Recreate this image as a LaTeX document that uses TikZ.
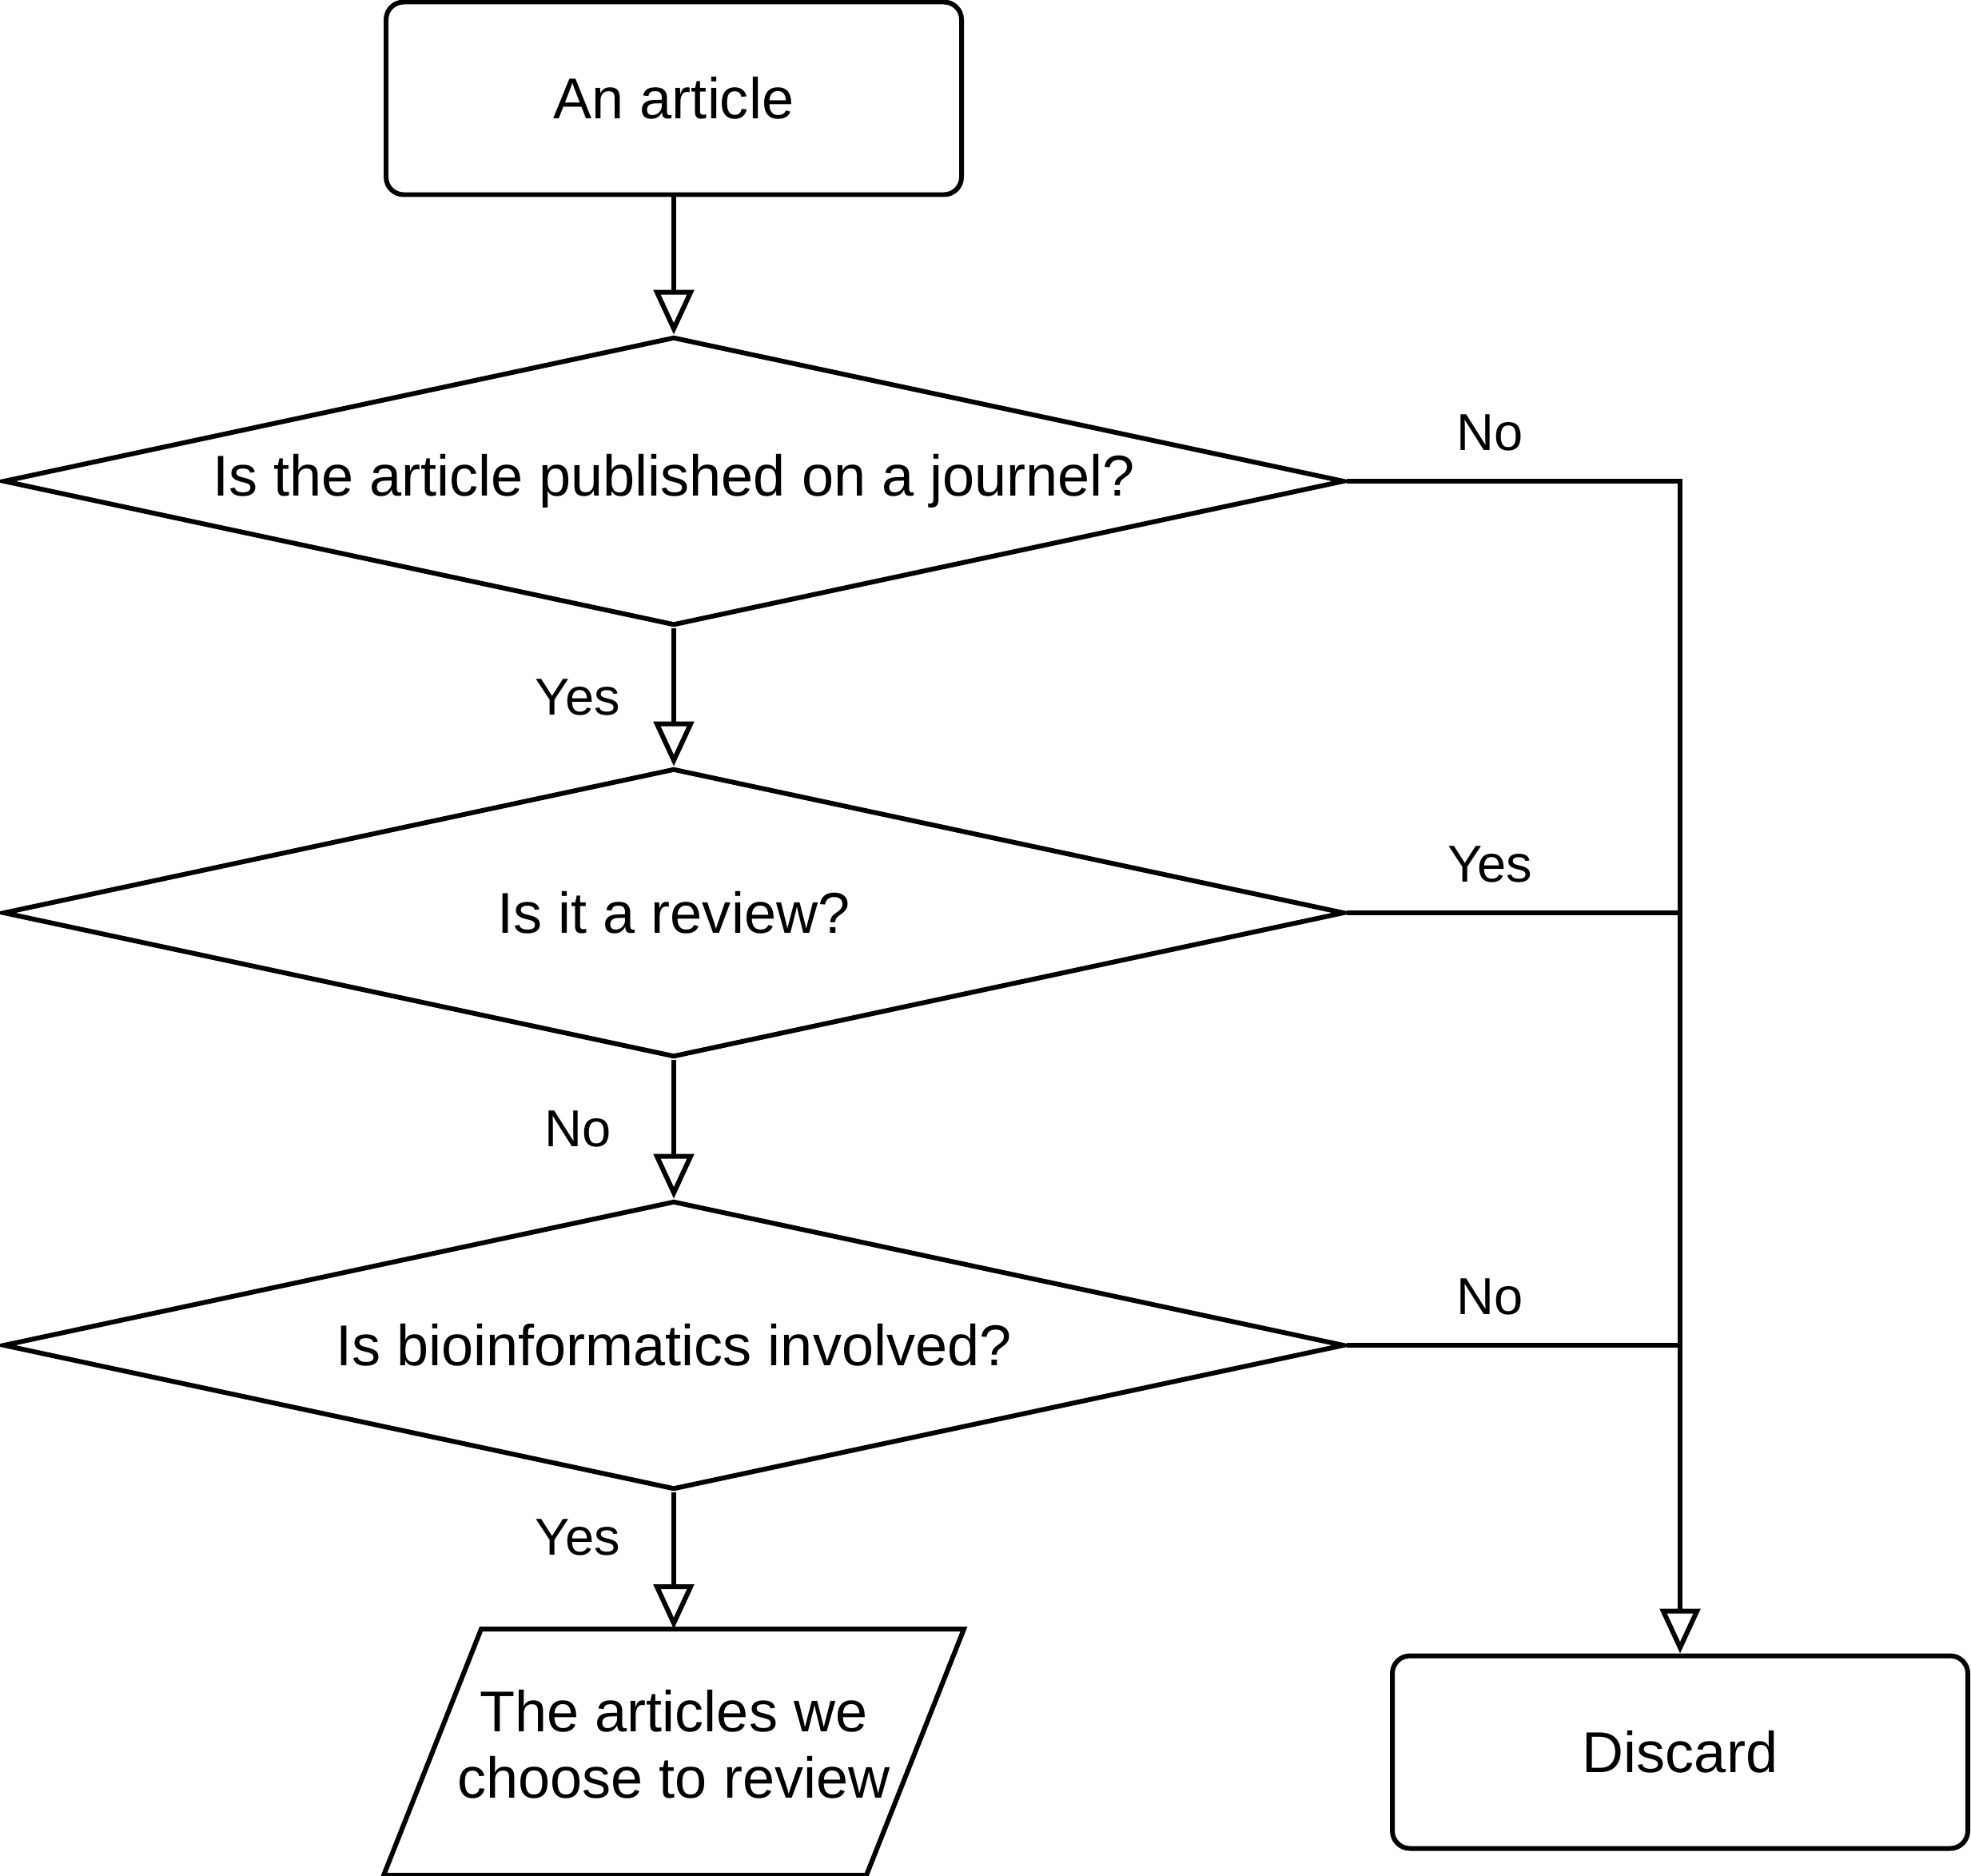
\documentclass[tikz,border=0pt]{standalone}
\usepackage{fontspec}
\setmainfont{Liberation Sans}
\usetikzlibrary{shapes.geometric, arrows.meta}

\begin{document}
\begin{tikzpicture}[
        line width=1.7pt,
        every node/.style={font=\fontsize{20.5}{23.6}\selectfont},
        endbox/.style={draw, rectangle, rounded corners=0.22cm, minimum width=7.2cm, minimum height=2.41cm},
        question/.style={draw, diamond, aspect=4.65, inner sep=0pt, minimum width=16.78cm, minimum height=3.61cm},
        outbox/.style={inner sep=0pt, minimum width=5.98cm, minimum height=3.02cm, align=center, text depth=0.2cm},
        answer/.style={font=\fontsize{18.5}{22}\selectfont},
        flow/.style={-{Triangle[open, width=0.5cm, length=0.56cm]}}
    ]
            \useasboundingbox (0, 0) rectangle (24.66, -23.46);

            \node[endbox] (art) at (8.43, -1.23) {An article};
            \node[question] (q1) at (8.43, -6.02) {Is the article published on a journel?};
            \node[question] (q2) at (8.43, -11.42) {Is it a review?};
            \node[question] (q3) at (8.43, -16.83) {Is bioinformatics involved?};
            \node[outbox] (chosen) at (8.43, -21.92) {The articles we\\choose to review};
            \node[endbox] (discard) at (21.02, -21.92) {Discard};

            % slanted sides of the output box
            \draw ([xshift=-0.61cm]chosen.south west) -- ([xshift=0.61cm]chosen.north west)
                -- ([xshift=0.61cm]chosen.north east) -- ([xshift=-0.61cm]chosen.south east) -- cycle;

            % junctions on the discard line
            \coordinate (j1) at (21.02, -6.02);
            \coordinate (j2) at (21.02, -11.42);
            \coordinate (j3) at (21.02, -16.83);

            \draw[flow] (art) -- (q1);
            \draw[flow] (q1) -- node[answer, midway, xshift=-1.2cm]{Yes} (q2);
            \draw[flow] (q2) -- node[answer, midway, xshift=-1.2cm]{No} (q3);
            \draw[flow] (q3) -- node[answer, pos=0.33, xshift=-1.2cm]{Yes} (chosen);

            \draw[flow] (q1.east) -- node[answer, pos=0.43, yshift=0.61cm]{No} (j1) -- (discard);
            \draw (q2.east) -- node[answer, pos=0.43, yshift=0.61cm]{Yes} (j2);
            \draw (q3.east) -- node[answer, pos=0.43, yshift=0.61cm]{No} (j3);
        \end{tikzpicture}
\end{document}
